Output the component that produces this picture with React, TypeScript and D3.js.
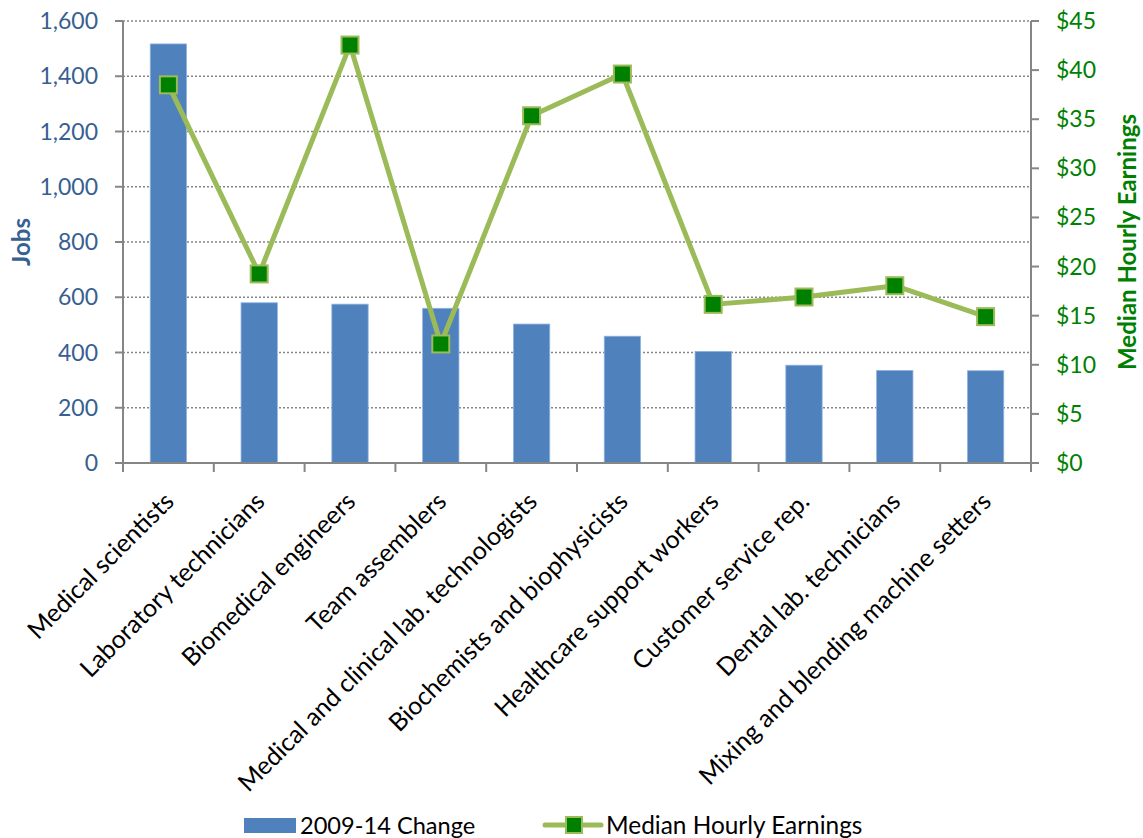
import React from "react";
import * as d3 from "d3";

const categories = [
  "Medical scientists",
  "Laboratory technicians",
  "Biomedical engineers",
  "Team assemblers",
  "Medical and clinical lab. technologists",
  "Biochemists and biophysicists",
  "Healthcare support workers",
  "Customer service rep.",
  "Dental lab. technicians",
  "Mixing and blending machine setters",
];
const jobsChange = [1517, 580, 575, 560, 503, 459, 404, 354, 335, 334];
const hourlyEarnings = [38.5, 19.25, 42.55, 12.12, 35.35, 39.6, 16.15, 16.9, 18.05, 14.9];
const leftTicks = [0, 200, 400, 600, 800, 1000, 1200, 1400, 1600];
const rightTicks = [0, 5, 10, 15, 20, 25, 30, 35, 40, 45];

const W = 1143;
const H = 838;
const M = { left: 123, right: 1031, top: 21, bottom: 463 };
const FONT = "Lato, 'Open Sans', sans-serif";
const AXIS = "#868686";
const BLUE = "#4F81BD";
const BLUE_TEXT = "#376092";
const GREEN = "#008000";
const LINE_GREEN = "#9BBB59";

export default function App() {
  const x = d3.scaleBand<string>().domain(categories).range([M.left, M.right]).paddingInner(0.6).paddingOuter(0.3);
  const xStep = d3.scaleBand<string>().domain(categories).range([M.left, M.right]);
  const yL = d3.scaleLinear().domain([0, 1600]).range([M.bottom, M.top]);
  const yR = d3.scaleLinear().domain([0, 45]).range([M.bottom, M.top]);
  const line = d3
    .line<number>()
    .x((_, i) => (xStep(categories[i]) as number) + xStep.bandwidth() / 2)
    .y((d) => yR(d));
  const ms = 17;

  return (
    <svg width={W} height={H} style={{ position: "absolute", left: 0, top: 0 }} fontFamily={FONT}>
      <rect width={W} height={H} fill="#fff" />
      {/* gridlines */}
      {leftTicks.slice(1).map((t) => (
        <line key={"g" + t} x1={M.left} x2={M.right} y1={yL(t)} y2={yL(t)} stroke={AXIS} strokeWidth={1.5} strokeDasharray="2,2" />
      ))}
      {/* bars */}
      {jobsChange.map((v, i) => (
        <rect
          key={"b" + i}
          x={x(categories[i])}
          y={yL(v)}
          width={x.bandwidth()}
          height={yL(0) - yL(v)}
          fill={BLUE}
          stroke="#8EB4E3"
          strokeWidth={0.8}
        />
      ))}
      {/* axes */}
      <line x1={M.left} x2={M.left} y1={M.top} y2={M.bottom + 9} stroke={AXIS} strokeWidth={2} />
      <line x1={M.right} x2={M.right} y1={M.top} y2={M.bottom + 9} stroke={AXIS} strokeWidth={2} />
      <line x1={M.left - 8} x2={M.right + 8} y1={M.bottom} y2={M.bottom} stroke={AXIS} strokeWidth={2} />
      {leftTicks.map((t) => (
        <g key={"lt" + t}>
          <line x1={M.left - 8} x2={M.left} y1={yL(t)} y2={yL(t)} stroke={AXIS} strokeWidth={2} />
          <text x={98} y={yL(t)} dy="0.35em" textAnchor="end" fontSize={23} fill={BLUE_TEXT}>
            {d3.format(",")(t)}
          </text>
        </g>
      ))}
      {rightTicks.map((t) => (
        <g key={"rt" + t}>
          <line x1={M.right} x2={M.right + 8} y1={yR(t)} y2={yR(t)} stroke={AXIS} strokeWidth={2} />
          <text x={1056} y={yR(t)} dy="0.35em" textAnchor="start" fontSize={23} fill={GREEN}>
            {"$" + t}
          </text>
        </g>
      ))}
      {categories.map((c, i) => (
        <line
          key={"bt" + i}
          x1={(xStep(c) as number) + xStep.bandwidth()}
          x2={(xStep(c) as number) + xStep.bandwidth()}
          y1={M.bottom}
          y2={M.bottom + 9}
          stroke={AXIS}
          strokeWidth={2}
        />
      ))}
      {/* category labels */}
      {categories.map((c, i) => {
        const cx = (xStep(c) as number) + xStep.bandwidth() / 2 + 7;
        const cy = 503;
        return (
          <text key={"cl" + i} x={cx} y={cy} transform={`rotate(-45 ${cx} ${cy})`} textAnchor="end" fontSize={25} fill="#000">
            {c}
          </text>
        );
      })}
      {/* line series */}
      <path d={line(hourlyEarnings) as string} fill="none" stroke={LINE_GREEN} strokeWidth={5} strokeLinejoin="round" />
      {hourlyEarnings.map((v, i) => {
        const cx = (xStep(categories[i]) as number) + xStep.bandwidth() / 2;
        return (
          <rect key={"m" + i} x={cx - ms / 2} y={yR(v) - ms / 2} width={ms} height={ms} fill={GREEN} stroke={LINE_GREEN} strokeWidth={2} />
        );
      })}
      {/* axis titles */}
      <text x={0} y={0} transform={`translate(30 242) rotate(-90)`} textAnchor="middle" fontSize={24} fontWeight="bold" fill={BLUE_TEXT}>
        Jobs
      </text>
      <text x={0} y={0} transform={`translate(1136 242) rotate(-90)`} textAnchor="middle" fontSize={24} fontWeight="bold" fill={GREEN}>
        Median Hourly Earnings
      </text>
      {/* legend */}
      <rect x={244} y={818} width={52} height={15} fill={BLUE} />
      <text x={300} y={834} fontSize={23.6} fill="#000">
        2009-14 Change
      </text>
      <line x1={545} x2={601} y1={825} y2={825} stroke={LINE_GREEN} strokeWidth={5} strokeLinecap="round" />
      <rect x={566} y={817} width={16} height={16} fill={GREEN} stroke={LINE_GREEN} strokeWidth={2} />
      <text x={606} y={834} fontSize={24.4} fill="#000">
        Median Hourly Earnings
      </text>
    </svg>
  );
}
